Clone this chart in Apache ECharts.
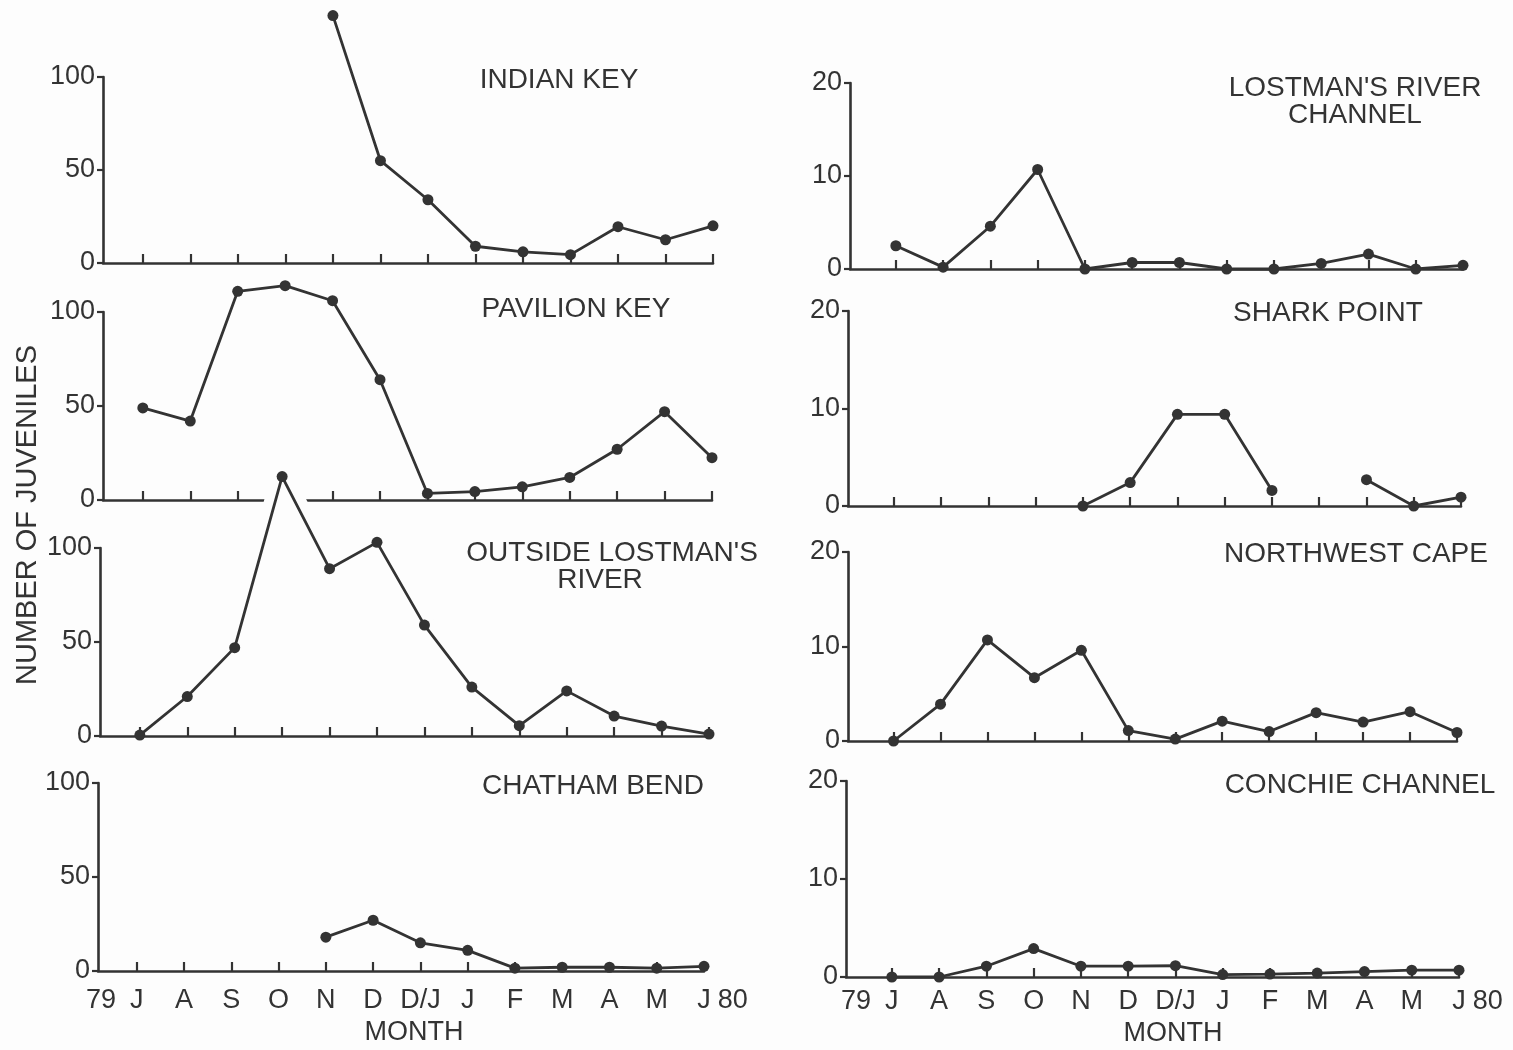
<!DOCTYPE html>
<html>
<head>
<meta charset="utf-8">
<script src="https://cdn.jsdelivr.net/npm/echarts@6/dist/echarts.min.js"></script>
<style>
html,body{margin:0;padding:0;background:#fdfdfd;}
#c{width:1513px;height:1050px;}
</style>
</head>
<body>
<div id="c"></div>
<script>
// ---- data ----
const months = ['J', 'A', 'S', 'O', 'N', 'D', 'D/J', 'J', 'F', 'M', 'A', 'M', 'J'];
const yearStart = '79';
const yearEnd = '80';
const leftTicks = [0, 50, 100];
const rightTicks = [0, 10, 20];

const indianKey       = [null, null, null, null, 133, 55, 34, 9, 6, 4.5, 19.5, 12.5, 20];
const pavilionKey     = [49, 42, 111, 114, 106, 64, 3.5, 4.5, 7, 12, 27, 47, 22.5];
const outsideLostmans = [0.5, 21, 47, 138, 89, 103, 59, 26, 5.5, 24, 10.6, 5.3, 1];
const chathamBend     = [null, null, null, null, 18, 27, 15, 11, 1.5, 2, 2, 1.5, 2.5];
const lostmansChannel = [2.5, 0.2, 4.6, 10.7, 0, 0.7, 0.7, 0, 0, 0.6, 1.6, 0, 0.4];
const sharkPoint      = [null, null, null, null, 0, 2.4, 9.4, 9.4, 1.6, null, 2.7, 0, 0.9];
const northwestCape   = [0, 3.9, 10.7, 6.7, 9.6, 1.1, 0.2, 2.1, 1, 3, 2, 3.1, 0.9];
const conchieChannel  = [0, 0, 1.1, 2.9, 1.1, 1.1, 1.15, 0.25, 0.3, 0.4, 0.55, 0.7, 0.7];

const siteNames = {
  indianKey: ['INDIAN KEY'],
  pavilionKey: ['PAVILION KEY'],
  outsideLostmans: ["OUTSIDE LOSTMAN'S", 'RIVER'],
  chathamBend: ['CHATHAM BEND'],
  lostmansChannel: ["LOSTMAN'S RIVER", 'CHANNEL'],
  sharkPoint: ['SHARK POINT'],
  northwestCape: ['NORTHWEST CAPE'],
  conchieChannel: ['CONCHIE CHANNEL']
};
const yTitle = 'NUMBER OF JUVENILES';
const xTitle = 'MONTH';

// ---- style / layout ----
const INK = '#333333';
const PAPER = '#fdfdfd';
const FONT = "'Liberation Sans', Arial, Helvetica, sans-serif";

const panels = [
  { data: indianKey,       ticks: leftTicks,  grid: {left: 103, top: 77,  width: 610, height: 186}, xmin: -0.84, labels: false },
  { data: pavilionKey,     ticks: leftTicks,  grid: {left: 103, top: 312, width: 609, height: 188}, xmin: -0.84, labels: false },
  { data: outsideLostmans, ticks: leftTicks,  grid: {left: 100, top: 548, width: 609, height: 188}, xmin: -0.84, labels: false, breakAbove: true },
  { data: chathamBend,     ticks: leftTicks,  grid: {left: 98,  top: 783, width: 606, height: 188}, xmin: -0.82, labels: true, labelMargin: 16 },
  { data: lostmansChannel, ticks: rightTicks, grid: {left: 850, top: 83,  width: 613, height: 186}, xmin: -0.97, labels: false },
  { data: sharkPoint,      ticks: rightTicks, grid: {left: 848, top: 311, width: 613, height: 195}, xmin: -0.97, labels: false },
  { data: northwestCape,   ticks: rightTicks, grid: {left: 848, top: 552, width: 609, height: 189}, xmin: -0.97, labels: false },
  { data: conchieChannel,  ticks: rightTicks, grid: {left: 846, top: 781, width: 613, height: 196}, xmin: -0.97, labels: true, labelMargin: 11 }
];

const titleSpots = [
  { lines: siteNames.indianKey,       pos: [[559, 80]] },
  { lines: siteNames.pavilionKey,     pos: [[576, 309]] },
  { lines: siteNames.outsideLostmans, pos: [[612, 553], [600, 580]] },
  { lines: siteNames.chathamBend,     pos: [[593, 786]] },
  { lines: siteNames.lostmansChannel, pos: [[1355, 88], [1355, 115]] },
  { lines: siteNames.sharkPoint,      pos: [[1328, 313]] },
  { lines: siteNames.northwestCape,   pos: [[1356, 554]] },
  { lines: siteNames.conchieChannel,  pos: [[1360, 785]] }
];

const tickIdx = months.map((m, k) => k);
const fs = 27;
const richBase = { fontSize: fs, fontFamily: FONT, color: INK };

function monthLabel(v) {
  const k = Math.round(v);
  if (k === 0) return '{y|' + yearStart + '}{m|' + months[0] + '}{p| }';
  if (k === months.length - 1) return '{p| }{m|' + months[k] + '}{e|' + yearEnd + '}';
  return '{m|' + months[k] + '}';
}

const grid = [], xAxis = [], yAxis = [], series = [];
panels.forEach((p, i) => {
  const yMax = p.ticks[p.ticks.length - 1];
  grid.push(Object.assign({ containLabel: false }, p.grid));
  xAxis.push({
    type: 'value', gridIndex: i, min: p.xmin, max: months.length - 1,
    axisLine: { show: true, onZero: false, lineStyle: { color: INK, width: 2.6 } },
    axisTick: { show: true, inside: true, length: 9, customValues: tickIdx, lineStyle: { color: INK, width: 2.2 } },
    axisLabel: {
      show: p.labels, customValues: tickIdx, margin: p.labelMargin || 12, formatter: monthLabel,
      color: INK, fontSize: fs, fontFamily: FONT,
      rich: {
        m: richBase,
        y: Object.assign({ width: 44, align: 'left' }, richBase),
        e: Object.assign({ width: 44, align: 'left' }, richBase),
        p: Object.assign({ width: 44 }, richBase)
      }
    },
    splitLine: { show: false }
  });
  yAxis.push({
    type: 'value', gridIndex: i, min: p.ticks[0], max: yMax,
    interval: p.ticks[1] - p.ticks[0],
    axisLine: { show: true, onZero: false, lineStyle: { color: INK, width: 2.6 } },
    axisTick: { show: true, length: 6, lineStyle: { color: INK, width: 2.2 } },
    axisLabel: { margin: 8, color: INK, fontSize: fs, fontFamily: FONT },
    splitLine: { show: false }
  });
  const pts = p.data.map((v, k) => [k, v == null ? '-' : v]);
  if (p.breakAbove) {
    // white halo only around the segments that pierce the panel above (gap in the original axis)
    const over = p.data.map(v => v != null && v > yMax);
    const haloPts = p.data.map((v, k) => {
      const near = over[k] || over[k - 1] || over[k + 1];
      return [k, near && v != null ? v : '-'];
    });
    series.push({
      type: 'line', xAxisIndex: i, yAxisIndex: i, data: haloPts,
      clip: false, connectNulls: false, symbol: 'none', silent: true,
      lineStyle: { color: PAPER, width: 22, cap: 'butt' },
      z: 2.5
    });
  }
  series.push({
    type: 'line', xAxisIndex: i, yAxisIndex: i,
    data: pts,
    clip: false, connectNulls: false,
    symbol: 'circle', symbolSize: 11, showAllSymbol: true,
    lineStyle: { color: INK, width: 2.8 },
    itemStyle: { color: INK },
    z: 3
  });
});

function txt(text, x, y, size, rot) {
  return {
    type: 'text', x: x, y: y, rotation: rot || 0, z: 10,
    style: {
      text: text, font: size + 'px ' + FONT, fill: INK,
      textAlign: 'center', textVerticalAlign: 'middle',
      align: 'center', verticalAlign: 'middle'
    }
  };
}

const graphic = [];
titleSpots.forEach(t => t.lines.forEach((line, j) => graphic.push(txt(line, t.pos[j][0], t.pos[j][1], 28))));
graphic.push(txt(xTitle, 414, 1033, 27));
graphic.push(txt(xTitle, 1173, 1034, 27));
graphic.push(txt(yTitle, 28, 515, 29, Math.PI / 2));

const chart = echarts.init(document.getElementById('c'), null, { renderer: 'canvas' });
chart.setOption({
  backgroundColor: PAPER,
  animation: false,
  grid: grid, xAxis: xAxis, yAxis: yAxis, series: series,
  graphic: graphic
});
</script>
</body>
</html>
